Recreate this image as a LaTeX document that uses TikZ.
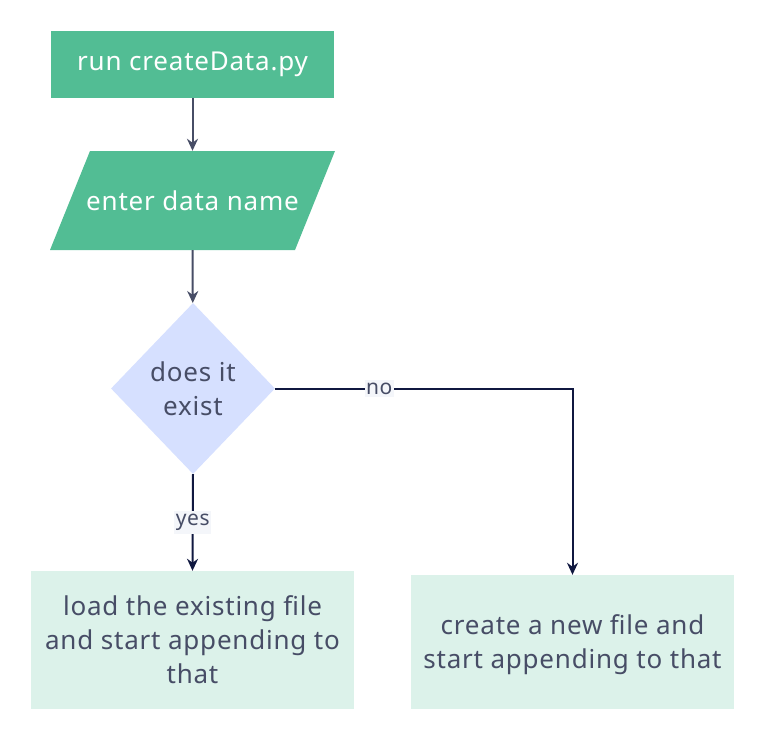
\documentclass[tikz,border=0pt]{standalone}
\usepackage{fontspec}
\setmainfont{Noto Sans}[LetterSpace=3]
\usetikzlibrary{arrows.meta,shapes.geometric}
\definecolor{grn}{HTML}{52BD94}
\definecolor{lgrn}{HTML}{DCF2EA}
\definecolor{dia}{HTML}{D6E0FF}
\definecolor{txt}{HTML}{474D66}
\definecolor{navy}{HTML}{101840}
\definecolor{lblbg}{HTML}{F4F6FA}
\tikzset{
  every node/.style={font=\fontsize{26}{34}\selectfont},
  startbox/.style={fill=grn, text=white, minimum width=283pt, minimum height=67pt, inner sep=0pt},
  iobox/.style={text=white, minimum width=245pt, minimum height=99pt, inner sep=0pt},
  decbox/.style={diamond, fill=dia, text=txt, minimum width=164pt, minimum height=171pt, inner sep=0pt, aspect=0.96, align=center},
  endbox/.style={fill=lgrn, text=txt, minimum width=323pt, inner sep=0pt, align=center},
  arr/.style={-{Stealth[length=12pt,width=11pt]}, line width=2pt, color=txt},
  arr2/.style={-{Stealth[length=12pt,width=11pt]}, line width=2pt, color=navy},
  lbl/.style={fill=lblbg, text=txt, font=\fontsize{21}{22}\selectfont, inner xsep=1.5pt, inner ysep=3pt}
}
\begin{document}
\begin{tikzpicture}[x=1pt,y=-1pt]
\useasboundingbox (0,0) rectangle (764,740);
\fill[grn] (90,151) -- (335,151) -- (295,250) -- (50,250) -- cycle;
\node[startbox] (run) at (192.5,64.5) {run createData.py};
\node[iobox] (enter) at (192.5,200.5) {enter data name};
\node[decbox] (exist) at (193,388.5) {does it\\exist};
\node[endbox, minimum height=138pt] (load) at (192.5,640) {load the existing file\\and start appending to\\that};
\node[endbox, minimum height=134pt, text depth=-2pt] (create) at (572.5,642) {create a new file and\\start appending to that};
\draw[arr] (run) -- (enter);
\draw[arr] (enter) -- (exist);
\draw[arr2] (exist.south) -- node[lbl, pos=0.5] {yes} (load.north);
\draw[arr2] (exist.east) -- node[lbl, pos=0.35] {no} (exist.east -| create.north) -- (create.north);
\end{tikzpicture}
\end{document}
